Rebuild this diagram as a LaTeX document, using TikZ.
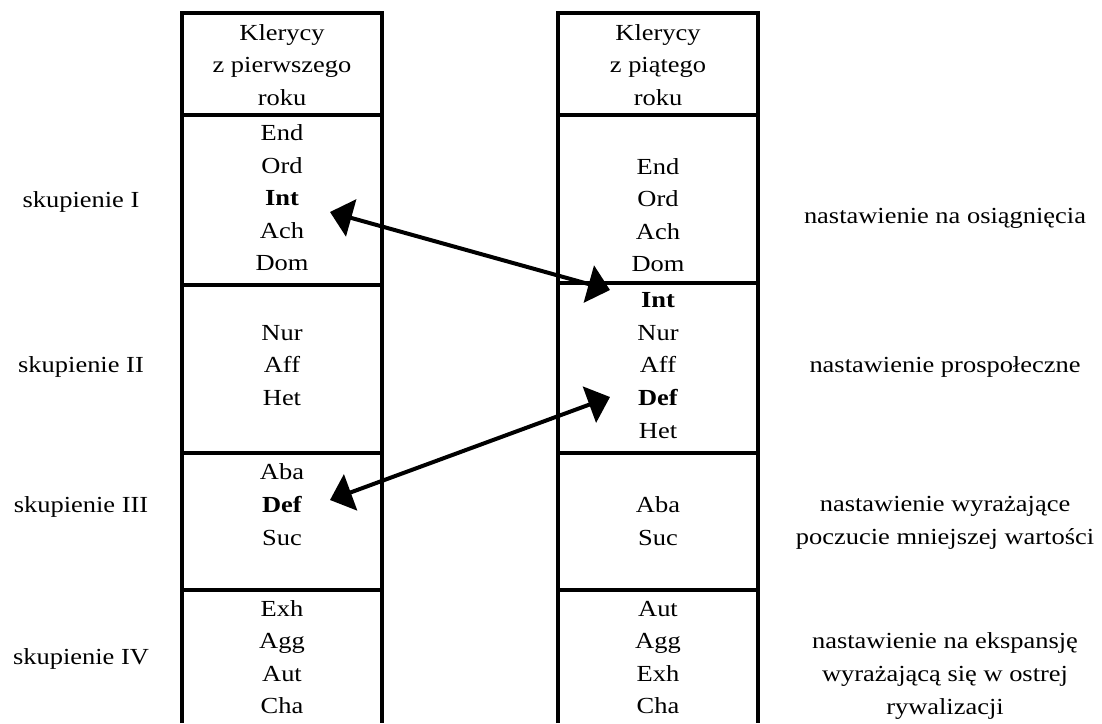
\documentclass[tikz,border=0pt]{standalone}
\usepackage{fontspec}
\setmainfont[FakeStretch=1.15]{Liberation Serif}
\usetikzlibrary{arrows.meta}
\usetikzlibrary{calc}
\usetikzlibrary{positioning}

\tikzset{
    cell/.style = {inner sep = 0pt, text height = 0.7em, text depth = 0.2em},
    note/.style = {inner sep = 0pt, align = center},
    link/.style = {{Triangle[length = 11pt, width = 19pt]}-{Triangle[length = 11pt, width = 19pt]}, line width = 2pt}
}

\begin{document}
\begin{tikzpicture}[x = 0.5pt, y = -0.5pt, line width = 1.6pt, font = \fontsize{11.5}{16.3}\selectfont]

    \useasboundingbox (0,0) rectangle (1102,723);

    \def\Lx{282}
    \def\Rx{658}
    \def\Colw{100}

    % columns
    \draw (\Lx-\Colw,723) -- (\Lx-\Colw,13) -- (\Lx+\Colw,13) -- (\Lx+\Colw,723);
    \draw (\Rx-\Colw,723) -- (\Rx-\Colw,13) -- (\Rx+\Colw,13) -- (\Rx+\Colw,723);
    \foreach \Y in {115, 285, 453, 590} {\draw (\Lx-\Colw,\Y) -- (\Lx+\Colw,\Y);}
    \foreach \Y in {115, 283, 453, 590} {\draw (\Rx-\Colw,\Y) -- (\Rx+\Colw,\Y);}

    \node[note] (Lhead) at (\Lx,65) {Klerycy\\z pierwszego\\roku};
    \node[note] (Rhead) at (\Rx,65) {Klerycy\\z piątego\\roku};

    \foreach \NAME/\Y in {End/135, Ord/168, Ach/233, Dom/265, Nur/335, Aff/367, Het/400,
                          Aba/474, Suc/540, Exh/611, Agg/643, Aut/676, Cha/708}
        {\node[cell] (L\NAME) at (\Lx,\Y) {\NAME};}
    \foreach \NAME/\Y in {Int/200, Def/507}
        {\node[cell] (L\NAME) at (\Lx,\Y) {\textbf{\NAME}};}

    \foreach \NAME/\Y in {End/169, Ord/201, Ach/234, Dom/266, Nur/335, Aff/367, Het/433,
                          Aba/507, Suc/540, Aut/611, Agg/643, Exh/676, Cha/708}
        {\node[cell] (R\NAME) at (\Rx,\Y) {\NAME};}
    \foreach \NAME/\Y in {Int/302, Def/400}
        {\node[cell] (R\NAME) at (\Rx,\Y) {\textbf{\NAME}};}

    \foreach \NUM/\Y in {I/202, II/367, III/507, IV/659}
        {\node[cell] (skup\NUM) at (81,\Y) {skupienie \NUM};}

    \node[cell] (nastI)   at (945,218) {nastawienie na osiągnięcia};
    \node[cell] (nastII)  at (945,367) {nastawienie prospołeczne};
    \node[note] (nastIII) at (945,523) {nastawienie wyrażające\\poczucie mniejszej wartości};
    \node[note] (nastIV)  at (945,676) {nastawienie na ekspansję\\wyrażającą się w ostrej\\rywalizacji};

    \coordinate (IntL) at ($(LInt)+(48,12)$);
    \coordinate (IntR) at ($(RInt)+(-48,-12)$);
    \coordinate (DefL) at ($(LDef)+(48,-7)$);
    \coordinate (DefR) at ($(RDef)+(-48,-3)$);

    \draw[link] (IntL) -- (IntR);
    \draw[link] (DefL) -- (DefR);

\end{tikzpicture}
\end{document}
